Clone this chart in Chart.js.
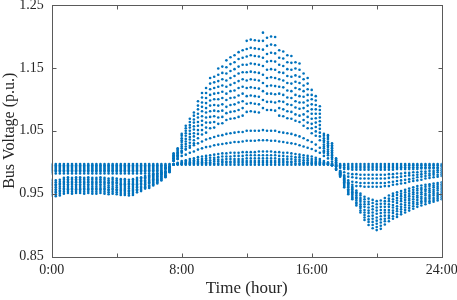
<!DOCTYPE html>
<html>
<head>
<meta charset="utf-8">
<script src="https://cdn.jsdelivr.net/npm/chart.js@4/dist/chart.umd.min.js"></script>
<style>
  html, body { margin: 0; padding: 0; background: #ffffff; }
  #c { display: block; }
</style>
</head>
<body>
<canvas id="c" width="457" height="300"></canvas>
<script>
// ---- time axis (hours, 15-minute steps) ----
const hours = [0,0.25,0.5,0.75,1,1.25,1.5,1.75,2,2.25,2.5,2.75,3,3.25,3.5,3.75,4,4.25,4.5,4.75,5,5.25,5.5,5.75,6,6.25,6.5,6.75,7,7.25,7.5,7.75,8,8.25,8.5,8.75,9,9.25,9.5,9.75,10,10.25,10.5,10.75,11,11.25,11.5,11.75,12,12.25,12.5,12.75,13,13.25,13.5,13.75,14,14.25,14.5,14.75,15,15.25,15.5,15.75,16,16.25,16.5,16.75,17,17.25,17.5,17.75,18,18.25,18.5,18.75,19,19.25,19.5,19.75,20,20.25,20.5,20.75,21,21.25,21.5,21.75,22,22.25,22.5,22.75,23,23.25,23.5,23.75,24];

// ---- tick labels ----
const xTickValues = [0,4,8,12,16,20,24];
const xTickLabels = ['0:00','','8:00','','16:00','','24:00'];
const yTickValues = [0.85,0.95,1.05,1.15,1.25];
const yTickLabels = ['0.85','0.95','1.05','1.15','1.25'];

// ---- bus voltages (p.u.), one array per bus ----
const busL1 = [.997,.997,.997,.997,.997,.997,.997,.997,.997,.997,.997,.997,.997,.997,.997,.997,.997,.997,.997,.997,.997,.997,.997,.997,.997,.997,.997,.997,.997,.997,
.996,.996,.996,.996,.996,.996,.996,.996,.996,.996,.996,.996,.996,.996,.996,.996,.996,.996,.996,.996,.996,.996,.996,.996,.996,.996,.996,.996,.996,.996,.996,.996,.996,.996,.996,.996,.996,.996,.996,
.997,.997,.997,.997,.997,.997,.997,.997,.997,.997,.997,.997,.997,.997,.997,.997,.997,.997,.997,.997,.997,.997,.997,.997,.997,.997,.997,.997];

const busL2 = [.995,.995,.995,.995,.995,.995,.995,.995,.995,.995,.995,.995,.995,.995,.995,.995,.995,.995,.995,.995,.995,.995,.995,.995,.995,.995,.995,.995,
.995,.996,.996,.997,.997,.997,.997,.998,.998,.998,.998,.998,.998,.998,.999,.999,.999,.999,.999,.999,.999,.999,.999,.999,.999,.999,.999,.999,.999,.999,.999,.999,.998,.998,.998,.998,.998,.998,.997,.997,.997,
.996,.995,.995,.995,.994,.994,.994,.994,.994,.994,.994,.994,.994,.994,.994,.994,.994,.994,.995,.995,.995,.995,.995,.995,.995,.995,.995,.995];

const busL3 = [.993,.993,.993,.993,.993,.993,.993,.993,.993,.993,.993,.993,.993,.993,.993,.993,.993,.993,.993,.993,.993,.993,.993,.993,.993,.993,.993,.993,
.994,.994,.996,.997,.997,.998,.998,.999,.999,1.000,1.000,1.000,1.001,1.001,1.001,1.001,1.001,1.002,1.002,1.002,1.002,1.002,1.002,1.002,1.002,1.002,1.002,1.002,1.002,1.002,1.001,1.001,1.001,1.001,1.000,1.000,.999,.999,.998,.997,.997,
.996,.994,.993,.992,.991,.991,.991,.991,.991,.991,.991,.991,.991,.991,.991,.991,.991,.992,.992,.992,.992,.992,.992,.992,.992,.992,.992,.993];

const busL4 = [.991,.991,.991,.991,.991,.991,.991,.991,.991,.991,.991,.991,.991,.991,.991,.991,.991,.991,.991,.991,.991,.991,.991,.991,.991,.991,.991,.991,
.992,.993,.996,.997,.998,.999,1.000,1.001,1.001,1.002,1.003,1.003,1.004,1.004,1.004,1.005,1.005,1.005,1.005,1.005,1.006,1.006,1.006,1.006,1.006,1.006,1.006,1.006,1.005,1.005,1.005,1.005,1.004,1.004,1.003,1.003,1.002,1.001,1.000,.998,.997,
.995,.993,.991,.989,.989,.988,.988,.988,.988,.988,.988,.988,.988,.988,.988,.988,.989,.989,.989,.989,.989,.989,.990,.990,.990,.990,.990,.990];

const busM1 = [.989,.989,.989,.989,.989,.989,.989,.989,.989,.989,.989,.989,.989,.989,.989,.989,.989,.989,.989,.989,.989,.989,.989,.989,.989,.989,.989,.989,
.991,.992,.997,.998,1.000,1.001,1.002,1.003,1.004,1.005,1.006,1.007,1.007,1.008,1.009,1.009,1.009,1.010,1.010,1.010,1.011,1.011,1.011,1.011,1.011,1.011,1.011,1.011,1.010,1.010,1.009,1.009,1.008,1.008,1.007,1.006,1.005,1.004,1.002,1.000,.998,
.995,.990,.986,.984,.982,.981,.981,.980,.980,.980,.980,.980,.980,.980,.981,.981,.982,.982,.983,.983,.984,.984,.985,.985,.986,.986,.987,.987];

const busM2 = [.987,.987,.987,.987,.987,.987,.987,.987,.987,.987,.987,.987,.987,.987,.987,.987,.987,.987,.987,.987,.987,.987,.987,.987,.987,.987,.987,.987,
.990,.992,.997,.999,1.002,1.003,1.005,1.006,1.008,1.009,1.010,1.011,1.012,1.013,1.014,1.014,1.015,1.015,1.015,1.016,1.016,1.016,1.016,1.017,1.017,1.017,1.017,1.016,1.016,1.015,1.015,1.014,1.013,1.012,1.011,1.010,1.009,1.007,1.005,1.002,1.000,
.995,.988,.983,.979,.977,.976,.975,.974,.974,.974,.974,.974,.974,.974,.975,.976,.976,.977,.978,.979,.979,.980,.981,.982,.982,.983,.984,.984];

const busM3 = [.985,.985,.985,.985,.985,.985,.985,.985,.985,.985,.985,.985,.985,.985,.985,.985,.985,.985,.985,.985,.985,.985,.985,.985,.985,.985,.985,.985,
.990,.992,1.002,1.005,1.010,1.012,1.015,1.017,1.020,1.022,1.024,1.025,1.027,1.028,1.029,1.030,1.031,1.032,1.032,1.033,1.034,1.034,1.034,1.035,1.035,1.035,1.034,1.034,1.033,1.032,1.031,1.030,1.029,1.027,1.025,1.023,1.021,1.018,1.015,1.010,1.006,
.998,.989,.980,.974,.971,.969,.968,.967,.967,.967,.967,.967,.967,.967,.968,.969,.970,.971,.972,.973,.974,.976,.977,.978,.979,.980,.980,.981];

const busM4 = [.982,.982,.982,.982,.982,.982,.982,.982,.982,.982,.982,.982,.982,.982,.982,.982,.982,.982,.982,.982,.982,.982,.982,.982,.982,.982,.982,.982,
.989,.992,1.006,1.010,1.017,1.020,1.023,1.027,1.030,1.033,1.036,1.038,1.040,1.042,1.043,1.045,1.046,1.047,1.048,1.048,1.050,1.050,1.050,1.050,1.051,1.050,1.050,1.050,1.048,1.047,1.046,1.045,1.043,1.041,1.038,1.035,1.032,1.028,1.023,1.017,1.011,
1.001,.988,.977,.970,.966,.964,.962,.962,.961,.961,.961,.961,.961,.962,.962,.964,.965,.966,.967,.969,.970,.971,.972,.974,.975,.976,.977,.978];

const busH1 = [.972,.971,.972,.975,.976,.975,.976,.976,.975,.976,.975,.975,.976,.975,.974,.975,.974,.973,.973,.972,.973,
.975,.976,.978,.979,.981,.982,.984,.986,.990,
1.002,1.005,1.015,1.021,1.026,1.030,1.038,1.044,1.047,1.054,1.055,1.061,1.062,1.067,1.069,1.070,1.072,1.074,1.080,1.081,1.080,1.079,1.086,1.083,1.083,1.082,1.074,1.073,1.070,1.069,1.066,1.064,1.058,1.054,1.046,1.042,1.035,1.015,1.014,
1.005,.993,.986,.977,.968,.961,.955,.950,.945,.942,.940,.938,.939,.943,.947,.950,.952,.954,.956,.958,.960,.962,.963,.964,.965,.966,.967,.968];

const busH2 = [.969,.968,.969,.972,.973,.972,.973,.973,.972,.973,.972,.972,.973,.972,.971,.972,.971,.970,.970,.969,.970,
.972,.974,.976,.977,.979,.980,.983,.985,.989,
1.003,1.007,1.018,1.025,1.031,1.035,1.045,1.051,1.055,1.063,1.064,1.071,1.072,1.078,1.080,1.081,1.083,1.086,1.093,1.094,1.093,1.092,1.099,1.096,1.096,1.095,1.086,1.084,1.081,1.080,1.076,1.074,1.067,1.063,1.054,1.049,1.041,1.018,1.017,
1.008,.994,.985,.975,.966,.959,.952,.947,.941,.937,.935,.933,.934,.938,.942,.946,.948,.950,.952,.954,.956,.958,.959,.961,.962,.963,.964,.965];

const busH3 = [.966,.965,.966,.969,.970,.969,.970,.970,.969,.970,.969,.969,.970,.969,.968,.969,.968,.967,.967,.966,.967,
.970,.971,.974,.975,.977,.978,.981,.984,.989,
1.005,1.009,1.022,1.029,1.036,1.041,1.051,1.059,1.063,1.072,1.073,1.081,1.082,1.088,1.091,1.092,1.095,1.097,1.105,1.106,1.105,1.104,1.113,1.109,1.109,1.108,1.097,1.096,1.092,1.091,1.087,1.085,1.076,1.072,1.061,1.056,1.047,1.022,1.020,
1.011,.996,.984,.973,.964,.957,.950,.943,.937,.933,.930,.928,.929,.934,.938,.941,.943,.946,.948,.950,.952,.955,.956,.957,.958,.960,.961,.962];

const busH4 = [.964,.963,.964,.967,.968,.967,.968,.968,.967,.968,.967,.967,.968,.967,.966,.967,.966,.965,.965,.964,.965,
.967,.969,.971,.972,.975,.977,.980,.983,.988,
1.006,1.011,1.025,1.033,1.040,1.046,1.058,1.066,1.071,1.081,1.082,1.090,1.092,1.099,1.102,1.103,1.106,1.109,1.118,1.119,1.118,1.117,1.126,1.121,1.122,1.121,1.109,1.107,1.103,1.102,1.097,1.095,1.086,1.081,1.069,1.063,1.053,1.025,1.024,
1.013,.997,.983,.971,.962,.954,.947,.940,.933,.928,.925,.923,.924,.929,.933,.937,.939,.942,.944,.946,.949,.951,.952,.954,.955,.956,.958,.959];

const busH5 = [.961,.960,.961,.964,.965,.964,.965,.965,.964,.965,.964,.964,.965,.964,.963,.964,.963,.962,.962,.961,.962,
.965,.966,.969,.970,.973,.975,.978,.982,.987,
1.007,1.013,1.028,1.037,1.045,1.052,1.064,1.073,1.079,1.090,1.091,1.100,1.102,1.109,1.113,1.114,1.118,1.120,1.130,1.132,1.131,1.130,1.139,1.134,1.135,1.134,1.120,1.119,1.114,1.113,1.107,1.105,1.095,1.090,1.077,1.070,1.059,1.028,1.027,
1.016,.999,.982,.969,.960,.952,.944,.937,.929,.923,.920,.918,.919,.924,.929,.932,.935,.938,.940,.942,.945,.947,.949,.950,.952,.953,.955,.956];

const busH6 = [.958,.957,.958,.961,.962,.961,.962,.962,.961,.962,.961,.961,.962,.961,.960,.961,.960,.959,.959,.958,.959,
.962,.964,.967,.968,.971,.973,.977,.980,.987,
1.009,1.014,1.032,1.042,1.050,1.057,1.071,1.081,1.086,1.098,1.100,1.110,1.112,1.120,1.123,1.126,1.129,1.132,1.143,1.144,1.143,1.142,1.153,1.147,1.148,1.147,1.132,1.130,1.126,1.125,1.118,1.116,1.104,1.098,1.084,1.077,1.065,1.032,1.030,
1.019,1.000,.982,.968,.957,.950,.942,.933,.924,.919,.915,.912,.914,.920,.924,.928,.930,.933,.936,.939,.941,.944,.945,.947,.948,.950,.951,.953];

const busH7 = [.955,.954,.955,.958,.959,.958,.959,.959,.958,.959,.958,.958,.959,.958,.957,.958,.957,.956,.956,.955,.956,
.960,.961,.965,.966,.969,.971,.975,.979,.986,
1.010,1.016,1.035,1.046,1.055,1.063,1.077,1.088,1.094,1.107,1.109,1.120,1.122,1.130,1.134,1.137,1.141,1.143,1.155,1.157,1.156,1.155,1.166,1.160,1.161,1.160,1.143,1.142,1.137,1.136,1.128,1.126,1.113,1.107,1.092,1.084,1.071,1.035,1.033,
1.022,1.002,.981,.966,.955,.948,.939,.930,.920,.914,.910,.907,.909,.915,.920,.923,.926,.929,.932,.935,.937,.940,.942,.943,.945,.947,.948,.950];

const busH8 = [.953,.952,.953,.956,.957,.956,.957,.957,.956,.957,.956,.956,.957,.956,.955,.956,.955,.954,.954,.953,.954,
.957,.959,.962,.963,.967,.970,.974,.978,.985,
1.011,1.018,1.038,1.050,1.059,1.068,1.084,1.095,1.102,1.116,1.118,1.129,1.132,1.141,1.145,1.148,1.152,1.155,1.168,1.170,1.169,1.168,1.179,1.172,1.174,1.173,1.155,1.153,1.148,1.147,1.138,1.136,1.122,1.116,1.100,1.091,1.077,1.038,1.037,
1.024,1.003,.980,.964,.953,.945,.936,.927,.916,.909,.905,.902,.904,.910,.915,.919,.922,.925,.928,.931,.934,.936,.938,.940,.942,.943,.945,.947];

const busH9 = [.950,.949,.950,.953,.954,.953,.954,.954,.953,.954,.953,.953,.954,.953,.952,.953,.952,.951,.951,.950,.951,
.955,.956,.960,.961,.965,.968,.972,.977,.985,
1.013,1.020,1.042,1.054,1.064,1.074,1.090,1.103,1.110,1.125,1.127,1.139,1.142,1.151,1.156,1.159,1.164,1.166,1.180,1.182,1.181,1.180,1.193,1.185,1.187,1.186,1.166,1.165,1.159,1.158,1.149,1.147,1.132,1.125,1.107,1.098,1.083,1.042,1.040,
1.027,1.005,.979,.962,.951,.943,.934,.923,.912,.905,.900,.897,.899,.906,.911,.914,.917,.921,.924,.927,.930,.933,.935,.937,.938,.940,.942,.944];

const busH10 = [.947,.946,.947,.950,.951,.950,.951,.951,.950,.951,.950,.950,.951,.950,.949,.950,.949,.948,.948,.947,.948,
.952,.954,.958,.959,.963,.966,.971,.976,.984,
1.014,1.022,1.045,1.058,1.069,1.079,1.097,1.110,1.118,1.134,1.136,1.149,1.152,1.162,1.167,1.170,1.175,1.178,1.193,1.195,1.194,1.193,1.206,1.198,1.200,1.199,1.178,1.176,1.170,1.169,1.159,1.157,1.141,1.134,1.115,1.105,1.089,1.045,1.043,
1.030,1.006,.978,.960,.949,.941,.931,.920,.908,.900,.895,.892,.894,.901,.906,.910,.913,.917,.920,.923,.926,.929,.931,.933,.935,.937,.939,.941];

const busSeries = [busL1, busL2, busL3, busL4, busM1, busM2, busM3, busM4,
  busH1, busH2, busH3, busH4, busH5, busH6, busH7, busH8, busH9, busH10];

busSeries.forEach((s, k) => { if (s.length !== hours.length) console.error('series ' + k + ' has ' + s.length + ' values'); });

const MARK = '#0072BD';
const FONT = "'Liberation Serif', 'Times New Roman', serif";
const AXIS = '#262626';

const datasets = busSeries.map(s => ({
  data: hours.map((h, i) => ({ x: h, y: s[i] })),
  showLine: false,
  pointRadius: 1.3,
  pointHoverRadius: 0,
  pointBorderWidth: 0,
  pointBackgroundColor: MARK,
  backgroundColor: MARK,
  borderColor: MARK
}));

const frame = {
  id: 'frame',
  afterDatasetsDraw(chart) {
    const { ctx, chartArea: a, scales } = chart;
    const x = scales.x, y = scales.y;
    const L = Math.round(a.left) + 0.5, R = Math.round(a.right) + 0.5;
    const T = Math.round(a.top) + 0.5, B = Math.round(a.bottom) + 0.5;
    ctx.save();
    ctx.strokeStyle = '#5a5a5a';
    ctx.lineWidth = 1;
    ctx.strokeRect(L, T, R - L, B - T);
    ctx.beginPath();
    xTickValues.forEach(v => {
      const px = Math.round(x.getPixelForValue(v)) + 0.5;
      ctx.moveTo(px, B); ctx.lineTo(px, B - 4);
      ctx.moveTo(px, T); ctx.lineTo(px, T + 4);
    });
    yTickValues.forEach(v => {
      const py = Math.round(y.getPixelForValue(v)) + 0.5;
      ctx.moveTo(L, py); ctx.lineTo(L + 4, py);
      ctx.moveTo(R, py); ctx.lineTo(R - 4, py);
    });
    ctx.stroke();
    ctx.restore();
  }
};

new Chart(document.getElementById('c'), {
  type: 'scatter',
  data: { datasets },
  options: {
    responsive: false,
    devicePixelRatio: 1,
    animation: false,
    events: [],
    layout: { padding: { left: 0, right: 15.3, top: 5, bottom: 0 } },
    plugins: { legend: { display: false }, tooltip: { enabled: false } },
    scales: {
      x: {
        type: 'linear',
        min: 0, max: 24,
        grid: { display: false, drawTicks: false },
        border: { display: false },
        afterBuildTicks: s => { s.ticks = xTickValues.map(v => ({ value: v })); },
        afterFit: s => { s.height = 43.5; s.paddingLeft = 0; s.paddingRight = 0; },
        ticks: {
          autoSkip: false, maxRotation: 0, padding: 5,
          color: AXIS,
          font: { family: FONT, size: 14 },
          callback: v => xTickLabels[xTickValues.indexOf(v)]
        },
        title: {
          display: true, text: 'Time (hour)', color: AXIS,
          font: { family: FONT, size: 17 },
          padding: { top: 0, bottom: 1 }
        }
      },
      y: {
        type: 'linear',
        min: 0.85, max: 1.25,
        grid: { display: false, drawTicks: false },
        border: { display: false },
        afterBuildTicks: s => { s.ticks = yTickValues.map(v => ({ value: v })); },
        afterFit: s => { s.width = 51.7; s.paddingTop = 0; s.paddingBottom = 0; },
        ticks: {
          autoSkip: false, padding: 8,
          color: AXIS,
          font: { family: FONT, size: 14 },
          callback: (v, i) => yTickLabels[i]
        },
        title: {
          display: true, text: 'Bus Voltage (p.u.)', color: AXIS,
          font: { family: FONT, size: 16 },
          padding: { top: 0, bottom: 4 }
        }
      }
    }
  },
  plugins: [frame]
});
</script>
</body>
</html>
